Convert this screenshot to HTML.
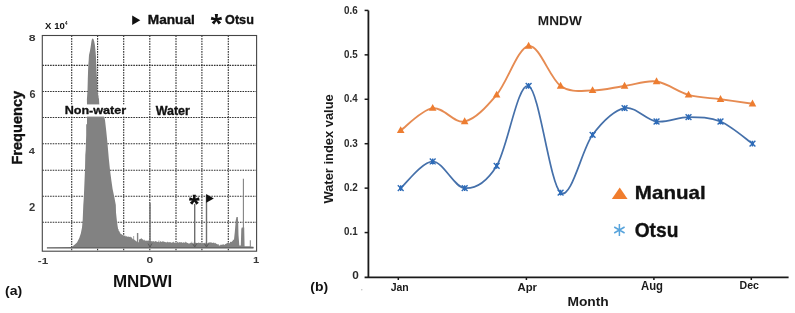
<!DOCTYPE html>
<html><head><meta charset="utf-8"><style>
html,body{margin:0;padding:0;background:#fff;}
body{width:795px;height:313px;overflow:hidden;}
svg{display:block;will-change:transform;}
text{font-family:"Liberation Sans",sans-serif;}
.b{font-weight:bold;}
.dot{stroke:#303030;stroke-width:1.1;stroke-dasharray:1.6 1;fill:none;}
</style></head><body>
<svg width="795" height="313" viewBox="0 0 795 313">
<rect x="42.3" y="35.5" width="214.3" height="215.7" fill="#fff"/>
<line x1="71.7" y1="35.5" x2="71.7" y2="251.2" class="dot"/>
<line x1="97.6" y1="35.5" x2="97.6" y2="251.2" class="dot"/>
<line x1="123.7" y1="35.5" x2="123.7" y2="251.2" class="dot"/>
<line x1="149.8" y1="35.5" x2="149.8" y2="251.2" class="dot"/>
<line x1="176" y1="35.5" x2="176" y2="251.2" class="dot"/>
<line x1="201.9" y1="35.5" x2="201.9" y2="251.2" class="dot"/>
<line x1="228.3" y1="35.5" x2="228.3" y2="251.2" class="dot"/>
<line x1="42.3" y1="65.4" x2="256.6" y2="65.4" class="dot"/>
<line x1="42.3" y1="91.5" x2="256.6" y2="91.5" class="dot"/>
<line x1="42.3" y1="117.5" x2="256.6" y2="117.5" class="dot"/>
<line x1="42.3" y1="143.7" x2="256.6" y2="143.7" class="dot"/>
<line x1="42.3" y1="170.2" x2="256.6" y2="170.2" class="dot"/>
<line x1="42.3" y1="196.3" x2="256.6" y2="196.3" class="dot"/>
<line x1="42.3" y1="222.2" x2="256.6" y2="222.2" class="dot"/>
<path d="M46.9 248 L69 247.2 L71.8 246.8 L74 245.3 L77 242.6 L79.3 238 L80.8 233.5 L82 227.5 L82.7 220 L83.3 205 L83.8 198.1 L84.4 183.8 L85 169.4 L85.3 155 L85.7 150 L86.2 135 L86.2 124.6 L87 124 L87 104.6 L86.9 99.4 L87.1 96.5 L87.5 90.7 L87.8 79.2 L88.1 70 L88.3 65.3 L88.7 60.2 L89 55.1 L90 50.7 L90.6 47.2 L91 44.4 L91.5 40.9 L92 39 L92.6 38.5 L93.4 39 L94.2 41.5 L94.9 45 L95.2 48 L95.6 52 L95.9 56 L96.1 60.2 L96.3 65.3 L96.5 70 L97 79.2 L97.5 90.7 L98.4 96.5 L99 99.4 L99.3 104.6 L102.5 110 L104 116.3 L105 120 L106.3 131.5 L107.5 143.5 L108.8 158.5 L110 170 L111.3 180 L112.6 189 L114.5 198 L115.8 205 L116 212.5 L116.8 220 L117.6 226 L118 228.3 L118 229.31 L118.7 229.31 L118.7 231.05 L119.4 231.05 L119.4 232.31 L120.1 232.31 L120.1 233.41 L120.8 233.41 L120.8 233.92 L121.5 233.92 L121.5 234.44 L122.2 234.44 L122.2 234.96 L122.9 234.96 L122.9 235.49 L123.6 235.49 L123.6 235.79 L124.3 235.79 L124.3 235.82 L125 235.82 L125 235.86 L125.7 235.86 L125.7 236.65 L126.4 236.65 L126.4 236.08 L127.1 236.08 L127.1 236.77 L127.8 236.77 L127.8 236.69 L128.5 236.69 L128.5 236.45 L129.2 236.45 L129.2 237.12 L129.9 237.12 L129.9 236.7 L130.6 236.7 L130.6 237.33 L131.3 237.33 L131.3 237.45 L132 237.45 L132 238.58 L132.7 238.58 L132.7 239.34 L133.4 239.34 L133.4 236 L134.1 236 L134.1 239.86 L134.8 239.86 L134.8 240.33 L135.5 240.33 L135.5 241.01 L136.2 241.01 L136.2 241.58 L136.9 241.58 L136.9 232.9 L137.6 232.9 L137.6 232.9 L138.3 232.9 L138.3 242.16 L139 242.16 L139 239.43 L139.7 239.43 L139.7 239.08 L140.4 239.08 L140.4 238.66 L141.1 238.66 L141.1 238.3 L141.8 238.3 L141.8 238.94 L142.5 238.94 L142.5 239.41 L143.2 239.41 L143.2 240.27 L143.9 240.27 L143.9 239.75 L144.6 239.75 L144.6 240.47 L145.3 240.47 L145.3 240.78 L146 240.78 L146 240.57 L146.7 240.57 L146.7 240.9 L147.4 240.9 L147.4 240.43 L148.1 240.43 L148.1 240.52 L148.8 240.52 L148.8 240.76 L149.5 240.76 L149.5 241.4 L150.2 241.4 L150.2 241.17 L150.9 241.17 L150.9 241.08 L151.6 241.08 L151.6 241.42 L152.3 241.42 L152.3 241.28 L153 241.28 L153 241.11 L153.7 241.11 L153.7 241.72 L154.4 241.72 L154.4 241.62 L155.1 241.62 L155.1 241.09 L155.8 241.09 L155.8 241.51 L156.5 241.51 L156.5 241.49 L157.2 241.49 L157.2 241.95 L157.9 241.95 L157.9 241.81 L158.6 241.81 L158.6 240.6 L159.3 240.6 L159.3 242.18 L160 242.18 L160 241.19 L160.7 241.19 L160.7 241.58 L161.4 241.58 L161.4 242.03 L162.1 242.03 L162.1 241.34 L162.8 241.34 L162.8 241.78 L163.5 241.78 L163.5 241.28 L164.2 241.28 L164.2 242.07 L164.9 242.07 L164.9 242.22 L165.6 242.22 L165.6 242.03 L166.3 242.03 L166.3 242.42 L167 242.42 L167 241.79 L167.7 241.79 L167.7 242.28 L168.4 242.28 L168.4 242.2 L169.1 242.2 L169.1 242.22 L169.8 242.22 L169.8 242.1 L170.5 242.1 L170.5 242.6 L171.2 242.6 L171.2 242.77 L171.9 242.77 L171.9 242.24 L172.6 242.24 L172.6 242.51 L173.3 242.51 L173.3 241.82 L174 241.82 L174 242.63 L174.7 242.63 L174.7 242.61 L175.4 242.61 L175.4 243.06 L176.1 243.06 L176.1 242.9 L176.8 242.9 L176.8 242.29 L177.5 242.29 L177.5 241.8 L178.2 241.8 L178.2 242.82 L178.9 242.82 L178.9 242.07 L179.6 242.07 L179.6 242.62 L180.3 242.62 L180.3 242.29 L181 242.29 L181 242.25 L181.7 242.25 L181.7 242.21 L182.4 242.21 L182.4 243.08 L183.1 243.08 L183.1 242.34 L183.8 242.34 L183.8 242.5 L184.5 242.5 L184.5 242.7 L185.2 242.7 L185.2 241.8 L185.9 241.8 L185.9 242.37 L186.6 242.37 L186.6 242.84 L187.3 242.84 L187.3 242.98 L188 242.98 L188 243.41 L188.7 243.41 L188.7 243.35 L189.4 243.35 L189.4 243.43 L190.1 243.43 L190.1 242.73 L190.8 242.73 L190.8 242.9 L191.5 242.9 L191.5 241.8 L192.2 241.8 L192.2 243.46 L192.9 243.46 L192.9 243.55 L193.6 243.55 L193.6 242.58 L194.3 242.58 L194.3 242.61 L195 242.61 L195 242.68 L195.7 242.68 L195.7 242.68 L196.4 242.68 L196.4 242.98 L197.1 242.98 L197.1 243.11 L197.8 243.11 L197.8 242.72 L198.5 242.72 L198.5 242.4 L199.2 242.4 L199.2 242.9 L199.9 242.9 L199.9 242.84 L200.6 242.84 L200.6 243.08 L201.3 243.08 L201.3 243.54 L202 243.54 L202 243.23 L202.7 243.23 L202.7 243.02 L203.4 243.02 L203.4 243.14 L204.1 243.14 L204.1 243.21 L204.8 243.21 L204.8 242.46 L205.5 242.46 L205.5 243.48 L206.2 243.48 L206.2 243.27 L206.9 243.27 L206.9 243.31 L207.6 243.31 L207.6 243.14 L208.3 243.14 L208.3 242.58 L209 242.58 L209 242.51 L209.7 242.51 L209.7 242.24 L210.4 242.24 L210.4 242.6 L211.1 242.6 L211.1 242.54 L211.8 242.54 L211.8 242.69 L212.5 242.69 L212.5 242.91 L213.2 242.91 L213.2 242.6 L213.9 242.6 L213.9 243.16 L214.6 243.16 L214.6 242.86 L215.3 242.86 L215.3 243.13 L216 243.13 L216 243.66 L216.7 243.66 L216.7 243.94 L217.4 243.94 L217.4 244.46 L218.1 244.46 L218.1 244.27 L218.8 244.27 L218.8 245.49 L219.5 245.49 L219.5 245.39 L220.2 245.39 L220.2 244.77 L220.9 244.77 L220.9 244.75 L221.6 244.75 L221.6 244.73 L222.3 244.73 L222.3 244.6 L223 244.6 L223 244.14 L223.7 244.14 L223.7 244.85 L224.4 244.85 L224.4 244.85 L225.1 244.85 L225.1 244.04 L225.8 244.04 L225.8 243.87 L226.5 243.87 L226.5 243.21 L227.2 243.21 L227.2 243.04 L227.9 243.04 L227.9 243.11 L228.6 243.11 L228.6 242.74 L229.3 242.74 L229.3 243.13 L230 243.13 L230 242.05 L230.7 242.05 L230.7 241.58 L231.4 241.58 L231.4 242.04 L232.1 242.04 L232.1 240.88 L232.8 240.88 L232.8 239.81 L233.5 239.81 L233.5 239.68 L234.2 239.68 L234 239.5 L234.8 232 L235.8 220 L236.5 217 L237.8 217 L238.2 223 L238.5 235 L239.3 245.6 L240.8 245.6 L241.3 229 L241.8 227.5 L244.2 227.5 L244.6 246.3 L249.8 246.3 L249.8 240.3 L250.8 240.3 L250.8 246.6 L253.5 246.8 L253.5 248 Z" fill="#828282"/>
<line x1="150" y1="203" x2="150" y2="247" stroke="#7a7a7a" stroke-width="1.6"/>
<line x1="243.4" y1="178.7" x2="243.4" y2="228" stroke="#828282" stroke-width="1.1"/>
<line x1="103" y1="115.5" x2="103" y2="118" stroke="#8a8a8a" stroke-width="0.8"/>
<line x1="46.9" y1="247.9" x2="253.5" y2="247.9" stroke="#5c5c5c" stroke-width="1.4"/>
<line x1="194.7" y1="204" x2="194.7" y2="246.5" stroke="#6e6e6e" stroke-width="1.4"/>
<line x1="206.5" y1="195" x2="206.5" y2="246.5" stroke="#6e6e6e" stroke-width="1.4"/>
<path d="M192.5 243.5 L194.7 247 L196.9 243.5 M204.3 243.5 L206.5 247 L208.7 243.5" stroke="#555" stroke-width="0.9" fill="none"/>
<path d="M148 243.5 L150 247 L152 243.5" stroke="#555" stroke-width="0.9" fill="none"/>
<path d="M195.21 199.9 L195.91 194.8 L192.69 194.8 L193.39 199.9 Z M194.49 200.79 L199.62 200.42 L198.95 197.26 L194.11 199.01 Z M193.6 200.48 L196.34 204.84 L198.81 202.77 L195 199.32 Z M193.6 199.32 L189.79 202.77 L192.26 204.84 L195 200.48 Z M194.49 199.01 L189.65 197.26 L188.98 200.42 L194.11 200.79 Z" fill="#111"/><circle cx="194.3" cy="199.9" r="1.43" fill="#111"/>
<path d="M206.2 194 L213.8 198.4 L206.2 202.8 Z" fill="#111"/>
<rect x="64.5" y="104.4" width="62.5" height="12.2" fill="#fff"/>
<rect x="154.5" y="104.4" width="36" height="12.2" fill="#fff"/>
<rect x="42.3" y="35.5" width="214.3" height="215.7" fill="none" stroke="#454545" stroke-width="1.1"/>
<text transform="matrix(1.2588 0.0000 0.0000 1.1232 64.6568 114.1250)" font-size="10" font-weight="bold" fill="#111" stroke="#111" stroke-width="0.294" stroke-linejoin="round">Non-water</text>
<text transform="matrix(1.2495 0.0000 0.0000 1.1957 155.6750 114.6250)" font-size="10" font-weight="bold" fill="#111" stroke="#111" stroke-width="0.286" stroke-linejoin="round">Water</text>
<text transform="matrix(0.9576 0.0000 0.0000 0.9275 45.1042 28.7000)" font-size="10" font-weight="bold" fill="#111">X 10</text>
<text transform="matrix(0.4486 0.0000 0.0000 0.5072 65.0327 25.4000)" font-size="10" font-weight="bold" fill="#111">4</text>
<path d="M132.2 15.4 L140.3 20.15 L132.2 24.9 Z" fill="#111"/>
<text transform="matrix(1.3661 0.0000 0.0000 1.2391 147.7870 24.0250)" font-size="10" font-weight="bold" fill="#111" stroke="#111" stroke-width="0.269" stroke-linejoin="round">Manual</text>
<path d="M217.31 19.4 L218.01 14 L214.79 14 L215.49 19.4 Z M216.59 20.29 L222.02 19.85 L221.35 16.7 L216.21 18.51 Z M215.7 19.98 L218.64 24.57 L221.11 22.5 L217.1 18.82 Z M215.7 18.82 L211.69 22.5 L214.16 24.57 L217.1 19.98 Z M216.59 18.51 L211.45 16.7 L210.78 19.85 L216.21 20.29 Z" fill="#111"/><circle cx="216.4" cy="19.4" r="1.43" fill="#111"/>
<text transform="matrix(1.2650 0.0000 0.0000 1.3028 225.0690 24.2947)" font-size="10" font-weight="bold" fill="#111" stroke="#111" stroke-width="0.273" stroke-linejoin="round">Otsu</text>
<text transform="matrix(1.2323 0.0000 0.0000 0.9155 28.7303 41.0085)" font-size="10" font-weight="bold" fill="#383838">8</text>
<text transform="matrix(1.0928 0.0000 0.0000 1.0845 29.4175 97.5915)" font-size="10" font-weight="bold" fill="#383838">6</text>
<text transform="matrix(1.1028 0.0000 0.0000 0.8986 28.7346 153.9000)" font-size="10" font-weight="bold" fill="#383838">4</text>
<text transform="matrix(1.1250 0.0000 0.0000 1.0714 29.0062 210.8000)" font-size="10" font-weight="bold" fill="#383838">2</text>
<text transform="matrix(1.1636 0.0000 0.0000 0.9014 37.8345 263.8099)" font-size="10" font-weight="bold" fill="#383838">-1</text>
<text transform="matrix(1.2000 0.0000 0.0000 0.9155 146.4200 263.3085)" font-size="10" font-weight="bold" fill="#383838">0</text>
<text transform="matrix(1.1183 0.0000 0.0000 0.9275 252.9731 263.4000)" font-size="10" font-weight="bold" fill="#383838">1</text>
<text transform="matrix(1.6999 0.0000 0.0000 1.6087 112.8951 287.3000)" font-size="10" font-weight="bold" fill="#111">MNDWI</text>
<text transform="matrix(1.4044 0.0000 0.0000 1.3369 4.9978 294.5925)" font-size="10" font-weight="bold" fill="#111">(a)</text>
<text transform="matrix(0.0000 -1.4584 1.4493 0.0000 21.6000 164.5479)" font-size="10" font-weight="bold" fill="#111" stroke="#111" stroke-width="0.275" stroke-linejoin="round">Frequency</text>
<path d="M400.7 130.38 C406.03 126.68 422.02 109.65 432.68 108.17 C443.34 106.69 454 123.72 464.66 121.5 C475.32 119.27 485.98 107.43 496.64 94.84 C507.3 82.25 517.96 47.45 528.62 45.96 C539.28 44.48 549.94 78.55 560.6 85.95 C571.26 93.36 581.92 90.39 592.58 90.39 C603.24 90.39 613.9 87.43 624.56 85.95 C635.22 84.47 645.88 80.03 656.54 81.51 C667.2 82.99 677.86 91.88 688.52 94.84 C699.18 97.8 709.84 97.8 720.5 99.28 C731.16 100.76 747.15 102.98 752.48 103.72" fill="none" stroke="#E68B52" stroke-width="1.9"/>
<path d="M400.7 188.14 C406.03 183.7 422.02 161.48 432.68 161.48 C443.34 161.48 454 187.4 464.66 188.14 C475.32 188.88 485.98 182.96 496.64 165.93 C507.3 148.89 517.96 81.51 528.62 85.95 C539.28 90.39 549.94 184.44 560.6 192.58 C571.26 200.73 581.92 148.89 592.58 134.82 C603.24 120.75 613.9 110.39 624.56 108.17 C635.22 105.94 645.88 120.01 656.54 121.5 C667.2 122.98 677.86 117.05 688.52 117.05 C699.18 117.05 709.84 117.05 720.5 121.5 C731.16 125.94 747.15 140.01 752.48 143.71" fill="none" stroke="#4570AA" stroke-width="1.7"/>
<path d="M400.7 126.18 L404.5 133.08 L396.9 133.08 Z" fill="#ED7D31"/>
<path d="M432.68 103.97 L436.48 110.87 L428.88 110.87 Z" fill="#ED7D31"/>
<path d="M464.66 117.3 L468.46 124.2 L460.86 124.2 Z" fill="#ED7D31"/>
<path d="M496.64 90.64 L500.44 97.54 L492.84 97.54 Z" fill="#ED7D31"/>
<path d="M528.62 41.76 L532.42 48.66 L524.82 48.66 Z" fill="#ED7D31"/>
<path d="M560.6 81.75 L564.4 88.65 L556.8 88.65 Z" fill="#ED7D31"/>
<path d="M592.58 86.19 L596.38 93.09 L588.78 93.09 Z" fill="#ED7D31"/>
<path d="M624.56 81.75 L628.36 88.65 L620.76 88.65 Z" fill="#ED7D31"/>
<path d="M656.54 77.31 L660.34 84.21 L652.74 84.21 Z" fill="#ED7D31"/>
<path d="M688.52 90.64 L692.32 97.54 L684.72 97.54 Z" fill="#ED7D31"/>
<path d="M720.5 95.08 L724.3 101.98 L716.7 101.98 Z" fill="#ED7D31"/>
<path d="M752.48 99.52 L756.28 106.42 L748.68 106.42 Z" fill="#ED7D31"/>
<path d="M397.8 185.24 L403.6 191.04 M403.6 185.24 L397.8 191.04 M400.7 185.24 L400.7 191.04" stroke="#2F6CB8" stroke-width="1.4" fill="none"/><circle cx="400.7" cy="188.14" r="1.6" fill="#2F6CB8"/>
<path d="M429.78 158.58 L435.58 164.38 M435.58 158.58 L429.78 164.38 M432.68 158.58 L432.68 164.38" stroke="#2F6CB8" stroke-width="1.4" fill="none"/><circle cx="432.68" cy="161.48" r="1.6" fill="#2F6CB8"/>
<path d="M461.76 185.24 L467.56 191.04 M467.56 185.24 L461.76 191.04 M464.66 185.24 L464.66 191.04" stroke="#2F6CB8" stroke-width="1.4" fill="none"/><circle cx="464.66" cy="188.14" r="1.6" fill="#2F6CB8"/>
<path d="M493.74 163.03 L499.54 168.83 M499.54 163.03 L493.74 168.83 M496.64 163.03 L496.64 168.83" stroke="#2F6CB8" stroke-width="1.4" fill="none"/><circle cx="496.64" cy="165.93" r="1.6" fill="#2F6CB8"/>
<path d="M525.72 83.05 L531.52 88.85 M531.52 83.05 L525.72 88.85 M528.62 83.05 L528.62 88.85" stroke="#2F6CB8" stroke-width="1.4" fill="none"/><circle cx="528.62" cy="85.95" r="1.6" fill="#2F6CB8"/>
<path d="M557.7 189.68 L563.5 195.48 M563.5 189.68 L557.7 195.48 M560.6 189.68 L560.6 195.48" stroke="#2F6CB8" stroke-width="1.4" fill="none"/><circle cx="560.6" cy="192.58" r="1.6" fill="#2F6CB8"/>
<path d="M589.68 131.92 L595.48 137.72 M595.48 131.92 L589.68 137.72 M592.58 131.92 L592.58 137.72" stroke="#2F6CB8" stroke-width="1.4" fill="none"/><circle cx="592.58" cy="134.82" r="1.6" fill="#2F6CB8"/>
<path d="M621.66 105.27 L627.46 111.07 M627.46 105.27 L621.66 111.07 M624.56 105.27 L624.56 111.07" stroke="#2F6CB8" stroke-width="1.4" fill="none"/><circle cx="624.56" cy="108.17" r="1.6" fill="#2F6CB8"/>
<path d="M653.64 118.59 L659.44 124.4 M659.44 118.59 L653.64 124.4 M656.54 118.59 L656.54 124.4" stroke="#2F6CB8" stroke-width="1.4" fill="none"/><circle cx="656.54" cy="121.5" r="1.6" fill="#2F6CB8"/>
<path d="M685.62 114.15 L691.42 119.95 M691.42 114.15 L685.62 119.95 M688.52 114.15 L688.52 119.95" stroke="#2F6CB8" stroke-width="1.4" fill="none"/><circle cx="688.52" cy="117.05" r="1.6" fill="#2F6CB8"/>
<path d="M717.6 118.59 L723.4 124.4 M723.4 118.59 L717.6 124.4 M720.5 118.59 L720.5 124.4" stroke="#2F6CB8" stroke-width="1.4" fill="none"/><circle cx="720.5" cy="121.5" r="1.6" fill="#2F6CB8"/>
<path d="M749.58 140.81 L755.38 146.61 M755.38 140.81 L749.58 146.61 M752.48 140.81 L752.48 146.61" stroke="#2F6CB8" stroke-width="1.4" fill="none"/><circle cx="752.48" cy="143.71" r="1.6" fill="#2F6CB8"/>
<line x1="368.4" y1="10.4" x2="368.4" y2="277.9" stroke="#1a1a1a" stroke-width="1.8"/>
<line x1="364.6" y1="277.3" x2="788.6" y2="277.3" stroke="#1a1a1a" stroke-width="1.8"/>
<line x1="364.6" y1="232.57" x2="368.4" y2="232.57" stroke="#1a1a1a" stroke-width="1.5"/>
<line x1="364.6" y1="188.14" x2="368.4" y2="188.14" stroke="#1a1a1a" stroke-width="1.5"/>
<line x1="364.6" y1="143.71" x2="368.4" y2="143.71" stroke="#1a1a1a" stroke-width="1.5"/>
<line x1="364.6" y1="99.28" x2="368.4" y2="99.28" stroke="#1a1a1a" stroke-width="1.5"/>
<line x1="364.6" y1="54.85" x2="368.4" y2="54.85" stroke="#1a1a1a" stroke-width="1.5"/>
<line x1="364.6" y1="10.42" x2="368.4" y2="10.42" stroke="#1a1a1a" stroke-width="1.5"/>
<line x1="398.3" y1="277" x2="398.3" y2="280" stroke="#1a1a1a" stroke-width="1.5"/>
<line x1="526.4" y1="277" x2="526.4" y2="280" stroke="#1a1a1a" stroke-width="1.5"/>
<line x1="653.9" y1="277" x2="653.9" y2="280" stroke="#1a1a1a" stroke-width="1.5"/>
<line x1="751.3" y1="277" x2="751.3" y2="280" stroke="#1a1a1a" stroke-width="1.5"/>
<text transform="matrix(0.9886 0.0000 0.0000 1.0141 344.1046 13.9486)" font-size="10" font-weight="bold" fill="#2a2a2a">0.6</text>
<text transform="matrix(0.9811 0.0000 0.0000 1.0141 344.1075 58.3486)" font-size="10" font-weight="bold" fill="#2a2a2a">0.5</text>
<text transform="matrix(0.9665 0.0000 0.0000 1.0141 344.1134 102.2486)" font-size="10" font-weight="bold" fill="#2a2a2a">0.4</text>
<text transform="matrix(0.9886 0.0000 0.0000 1.0141 344.1046 147.0486)" font-size="10" font-weight="bold" fill="#2a2a2a">0.3</text>
<text transform="matrix(0.9924 0.0000 0.0000 1.0141 344.1031 190.9486)" font-size="10" font-weight="bold" fill="#2a2a2a">0.2</text>
<text transform="matrix(0.9811 0.0000 0.0000 1.0141 344.1075 235.3486)" font-size="10" font-weight="bold" fill="#2a2a2a">0.1</text>
<text transform="matrix(1.1789 0.0000 0.0000 1.0000 352.3284 278.7000)" font-size="10" font-weight="bold" fill="#2a2a2a">0</text>
<text transform="matrix(1.0517 0.0000 0.0000 1.1571 390.6422 290.6843)" font-size="10" font-weight="bold" fill="#1a1a1a">Jan</text>
<text transform="matrix(1.1335 0.0000 0.0000 1.1594 517.5166 291.3000)" font-size="10" font-weight="bold" fill="#1a1a1a">Apr</text>
<text transform="matrix(1.1321 0.0000 0.0000 1.2609 641.0170 289.5000)" font-size="10" font-weight="bold" fill="#1a1a1a">Aug</text>
<text transform="matrix(1.0575 0.0000 0.0000 1.1739 739.5126 289.2000)" font-size="10" font-weight="bold" fill="#1a1a1a">Dec</text>
<text transform="matrix(1.3809 0.0000 0.0000 1.2653 567.4024 306.0735)" font-size="10" font-weight="bold" fill="#1a1a1a">Month</text>
<text transform="matrix(1.3651 0.0000 0.0000 1.3043 537.8127 24.7000)" font-size="10" font-weight="bold" fill="#1a1a1a">MNDW</text>
<text transform="matrix(1.3983 0.0000 0.0000 1.3583 310.3008 290.5476)" font-size="10" font-weight="bold" fill="#111">(b)</text>
<text transform="matrix(0.0000 -1.2906 1.3478 0.0000 333.4000 203.5000)" font-size="10" font-weight="bold" fill="#1a1a1a">Water index value</text>
<path d="M619.7 187.4 L627.6 199.1 L611.8 199.1 Z" fill="#F07D2E"/>
<path d="M619.4 224 L619.4 236 M614.2 227 L624.6 233 M614.2 233 L624.6 227" stroke="#58A4DC" stroke-width="1.5" fill="none"/>
<text transform="matrix(2.0560 0.0000 0.0000 1.9116 634.8386 198.9338)" font-size="10" font-weight="bold" fill="#111" stroke="#111" stroke-width="0.176" stroke-linejoin="round">Manual</text>
<text transform="matrix(1.9194 0.0000 0.0000 1.9648 634.7073 236.5285)" font-size="10" font-weight="bold" fill="#111" stroke="#111" stroke-width="0.180" stroke-linejoin="round">Otsu</text>
<circle cx="361.8" cy="289.8" r="0.7" fill="#bbb"/>
</svg>
</body></html>
